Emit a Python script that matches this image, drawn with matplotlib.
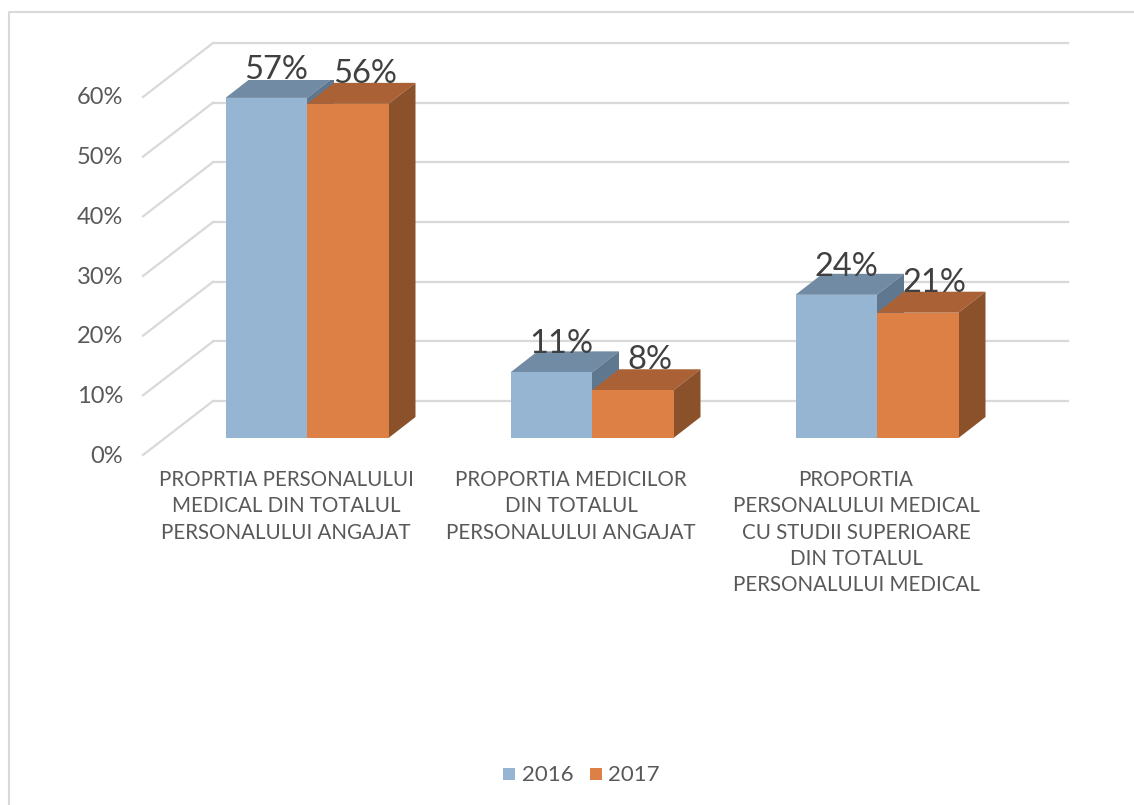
import matplotlib
matplotlib.use("Agg")
import matplotlib.pyplot as plt
from matplotlib.patches import Polygon, Rectangle
from matplotlib.transforms import Affine2D

# data
categories = ["PROPRTIA PERSONALULUI\nMEDICAL DIN TOTALUL\nPERSONALULUI ANGAJAT",
              "PROPORTIA MEDICILOR\nDIN TOTALUL\nPERSONALULUI ANGAJAT",
              "PROPORTIA\nPERSONALULUI MEDICAL\nCU STUDII SUPERIOARE\nDIN TOTALUL\nPERSONALULUI MEDICAL"]
years = ["2016", "2017"]
values_2016 = [57, 11, 24]
values_2017 = [56, 8, 21]
yticks = [0, 10, 20, 30, 40, 50, 60]

W, H = 1134, 805
plt.rcParams['font.family'] = ['Lato', 'DejaVu Sans']

fig = plt.figure(figsize=(W / 100, H / 100), dpi=100)
fig.patch.set_facecolor("white")

# frame of the chart area, only left and top show in the crop
fig.add_artist(plt.Line2D([8.5 / W, 8.5 / W, 1], [0, (H - 12) / H, (H - 12) / H], color="#d9d9d9", lw=1.5,
                          transform=fig.transFigure))

# the axes is the front plane of the bars
ax = fig.add_axes([164.5 / W, (H - 438) / H, 855 / W, 358 / H])
ax.set_xlim(0, 3)
ax.set_ylim(0, 60)
ax.axis("off")


def shifted(dx, dy):
    return ax.transData + Affine2D().translate(dx, dy)


# gridlines: side wall going back, then back wall
for v in yticks:
    p0 = shifted(-21.5, -17).transform((0, v))
    p1 = shifted(48.5, 37).transform((0, v))
    ax.plot([p0[0], p1[0]], [p0[1], p1[1]], color="#d9d9d9", lw=1.6, clip_on=False, zorder=1, transform=None)
    ax.plot([0, 3], [v, v], color="#d9d9d9", lw=1.6, clip_on=False, zorder=1, transform=shifted(48.5, 37))
    ax.text(-0.145, v, "%d%%" % v, ha="right", va="center", fontsize=17, color="#595959",
            transform=shifted(0, -18))

bar_w = 81.5 / 285
depth_x, depth_y = 27, 21
styles = [("#95b5d3", "#708ba3", "#5f7890"), ("#dd8045", "#a96135", "#8b512a")]


def bar3d(left, value, colors, z):
    front, top, side = colors
    right = left + bar_w
    t = shifted(depth_x, depth_y)
    # side and top faces are the front edges pushed back by the depth
    corners = ax.transData.transform([(left, value), (right, value), (right, 0)])
    back = t.transform([(left, value), (right, value), (right, 0)])
    ax.add_patch(Polygon([corners[0], back[0], back[1], corners[1]], closed=True, fc=top, ec="none", transform=None, zorder=z))
    ax.add_patch(Polygon([corners[1], back[1], back[2], corners[2]], closed=True, fc=side, ec="none", transform=None, zorder=z))
    ax.add_patch(Rectangle((left, 0), bar_w, value, fc=front, ec="none", zorder=z + 0.1))


for i in range(3):
    c = i + 0.5
    bar3d(c - bar_w, values_2016[i], styles[0], 2)
    bar3d(c, values_2017[i], styles[1], 3)
    ax.text(c - bar_w / 2, values_2016[i], "%d%%" % values_2016[i], ha="center", va="baseline", fontsize=23.5,
            color="#404040", zorder=6, transform=shifted(10, 19))
    ax.text(c + bar_w / 2, values_2017[i], "%d%%" % values_2017[i], ha="center", va="baseline", fontsize=23.5,
            color="#404040", zorder=6, transform=shifted(17, 21))
    # one text per line so the line pitch stays even
    for j, row in enumerate(categories[i].split("\n")):
        ax.text(c, 0, row, ha="center", va="center", fontsize=14.8, color="#595959",
                transform=shifted(-21, -42 - j * 26.3))

# legend
for x, col, year, tx in [(503, styles[0][0], years[0], 522), (590, styles[1][0], years[1], 608)]:
    fig.add_artist(Rectangle((x / W, (H - 780) / H), 12 / W, 12 / H, transform=fig.transFigure, fc=col, ec="none"))
    fig.text(tx / W, (H - 775) / H, year, ha="left", va="center", fontsize=16, color="#595959")

fig.savefig("out.png", dpi=100)
